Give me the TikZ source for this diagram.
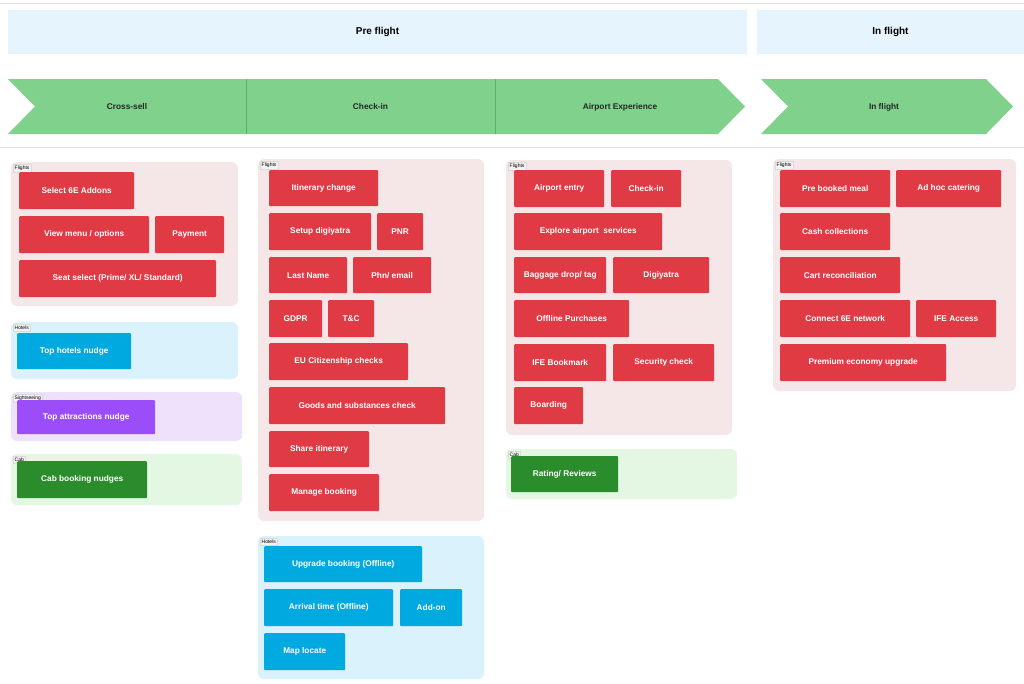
\documentclass[tikz,border=0pt]{standalone}
\usepackage{fontspec}
\setmainfont{Liberation Sans}
\definecolor{band}{HTML}{E6F4FD}
\definecolor{chev}{HTML}{7FD18B}
\definecolor{chevline}{HTML}{5DAE68}
\definecolor{redbg}{HTML}{F5E7E7}
\definecolor{redtile}{HTML}{E03A45}
\definecolor{bluebg}{HTML}{D9F2FB}
\definecolor{bluetile}{HTML}{00A9E0}
\definecolor{purpbg}{HTML}{EEE1FB}
\definecolor{purptile}{HTML}{9B4DFA}
\definecolor{greenbg}{HTML}{E3F7E3}
\definecolor{greentile}{HTML}{2A8C2A}
\tikzset{
  tile/.style={inner sep=0pt, text=white, font=\fontsize{8.3}{10}\selectfont\bfseries, rounded corners=1pt},
  tag/.style={draw=black!15, fill=white!95!black, inner sep=1.5pt, font=\fontsize{5}{6}\selectfont, anchor=north west},
  head/.style={font=\fontsize{10}{12}\selectfont\bfseries},
  stage/.style={font=\fontsize{8.3}{10}\selectfont\bfseries, text=black!85}
}
% tile: style, name, x1, y1, x2, y2, text
\newcommand\tile[7]{\node[tile, fill=#1, minimum width=#5pt-#3pt, minimum height=#6pt-#4pt, anchor=north west] (#2) at (#3,#4) {#7};}
% group box: fill, name, x1, y1, x2, y2, tag
\newcommand\grp[7]{\fill[#1, rounded corners=6pt] (#3,#4) rectangle (#5,#6); \node[tag] (#2) at (#3+2,#4+2) {#7};}
\begin{document}
\begin{tikzpicture}[x=1pt, y=-1pt]
  \useasboundingbox (0,0) rectangle (1024,683);
  \draw[black!12] (0,3) -- (1024,3);
  \draw[black!12] (0,147) -- (1024,147);

  % phases
  \fill[band] (8,10) rectangle (747,54);
  \node[head] (pre) at (377.5,32) {Pre flight};
  \fill[band] (757,10) rectangle (1024,54);
  \node[head] (inf) at (890.5,32) {In flight};

  % stages
  \fill[chev] (8,79) -- (718,79) -- (745,106.5) -- (718,134) -- (8,134) -- (35,106.5) -- cycle;
  \fill[chev] (761,79) -- (986,79) -- (1013,106.5) -- (986,134) -- (761,134) -- (788,106.5) -- cycle;
  \foreach \x in {246,495}
    \draw[chevline] (\x,79) -- (\x,134);
  \node[stage] (cross) at (127,107) {Cross-sell};
  \node[stage] (check) at (370.5,107) {Check-in};
  \node[stage] (airport) at (620,107) {Airport Experience};
  \node[stage] (flight) at (884,107) {In flight};

  % cross-sell
  \grp{redbg}{csf}{11}{162}{238}{306}{Flights}
  \tile{redtile}{addons}{19}{172}{134}{209}{Select 6E Addons}
  \tile{redtile}{menu}{19}{216}{149}{253}{View menu / options}
  \tile{redtile}{pay}{155}{216}{224}{253}{Payment}
  \tile{redtile}{seat}{19}{260}{216}{297}{Seat select (Prime/ XL/ Standard)}
  \grp{bluebg}{csh}{11}{322}{238}{379}{Hotels}
  \tile{bluetile}{hotel}{17}{333}{131}{369}{Top hotels nudge}
  \grp{purpbg}{css}{11}{392}{242}{441}{Sightseeing}
  \tile{purptile}{attr}{17}{400}{155}{434}{Top attractions nudge}
  \grp{greenbg}{csc}{11}{454}{242}{505}{Cab}
  \tile{greentile}{cab}{17}{461}{147}{498}{Cab booking nudges}

  % check-in
  \grp{redbg}{cif}{258}{159}{484}{521}{Flights}
  \tile{redtile}{itin}{269}{170}{378}{206}{Itinerary change}
  \tile{redtile}{digi}{269}{213}{371}{250}{Setup digiyatra}
  \tile{redtile}{pnr}{377}{213}{423}{250}{PNR}
  \tile{redtile}{lname}{269}{257}{347}{293}{Last Name}
  \tile{redtile}{phn}{353}{257}{431}{293}{Phn/ email}
  \tile{redtile}{gdpr}{269}{300}{322}{337}{GDPR}
  \tile{redtile}{tc}{328}{300}{374}{337}{T\&C}
  \tile{redtile}{eu}{269}{343}{408}{380}{EU Citizenship checks}
  \tile{redtile}{goods}{269}{387}{445}{424}{Goods and substances check}
  \tile{redtile}{share}{269}{431}{369}{467}{Share itinerary}
  \tile{redtile}{manage}{269}{474}{379}{511}{Manage booking}
  \grp{bluebg}{cih}{258}{536}{484}{679}{Hotels}
  \tile{bluetile}{upg}{264}{546}{422}{582}{Upgrade booking (Offline)}
  \tile{bluetile}{arr}{264}{589}{393}{626}{Arrival time (Offline)}
  \tile{bluetile}{addon}{400}{589}{462}{626}{Add-on}
  \tile{bluetile}{map}{264}{633}{345}{670}{Map locate}

  % airport
  \grp{redbg}{apf}{506}{160}{732}{435}{Flights}
  \tile{redtile}{entry}{514}{170}{604}{207}{Airport entry}
  \tile{redtile}{apcheck}{611}{170}{681}{207}{Check-in}
  \tile{redtile}{explore}{514}{213}{662}{250}{Explore airport\ \ services}
  \tile{redtile}{bag}{514}{257}{606}{293}{Baggage drop/ tag}
  \tile{redtile}{apdigi}{613}{257}{709}{293}{Digiyatra}
  \tile{redtile}{offline}{514}{300}{629}{337}{Offline Purchases}
  \tile{redtile}{ife}{514}{344}{606}{381}{IFE Bookmark}
  \tile{redtile}{sec}{613}{344}{714}{381}{Security check}
  \tile{redtile}{board}{514}{387}{583}{424}{Boarding}
  \grp{greenbg}{apc}{506}{449}{737}{499}{Cab}
  \tile{greentile}{rate}{511}{456}{618}{492}{Rating/ Reviews}

  % in flight
  \grp{redbg}{iff}{773}{159}{1016}{391}{Flights}
  \tile{redtile}{meal}{780}{170}{890}{207}{Pre booked meal}
  \tile{redtile}{adhoc}{896}{170}{1001}{207}{Ad hoc catering}
  \tile{redtile}{cash}{780}{213}{890}{250}{Cash collections}
  \tile{redtile}{cart}{780}{257}{900}{293}{Cart reconciliation}
  \tile{redtile}{net}{780}{300}{910}{337}{Connect 6E network}
  \tile{redtile}{ifeacc}{916}{300}{996}{337}{IFE Access}
  \tile{redtile}{prem}{780}{344}{946}{381}{Premium economy upgrade}
\end{tikzpicture}
\end{document}
